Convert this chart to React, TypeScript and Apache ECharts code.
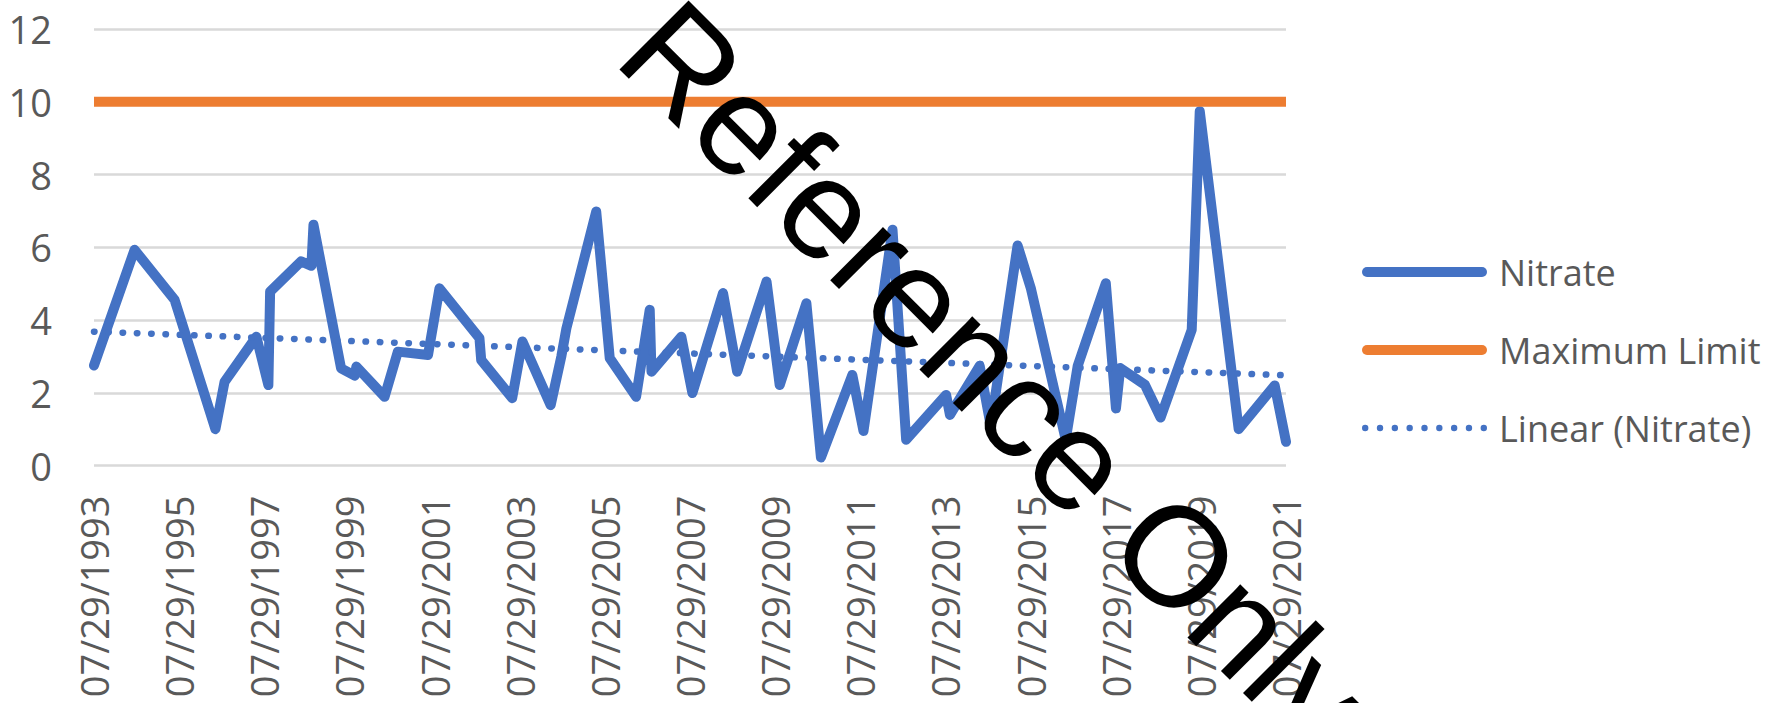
import React, { useEffect, useRef } from "react";
import * as echarts from "echarts";

const nitrateDates = [
  "1993-07-29", "1994-07-12", "1995-06-21", "1996-06-05", "1996-08-22",
  "1997-05-22", "1997-09-02", "1997-09-17", "1998-06-10", "1998-09-06",
  "1998-09-24", "1999-05-19", "1999-09-13", "1999-09-27", "2000-05-26",
  "2000-09-17", "2001-06-03", "2001-09-09", "2002-08-18", "2002-09-02",
  "2003-05-26", "2003-08-22", "2004-04-20", "2004-07-20", "2004-09-02",
  "2005-05-16", "2005-09-09", "2006-04-23", "2006-08-18", "2006-09-02",
  "2007-05-16", "2007-08-19", "2008-05-08", "2008-09-06", "2009-05-16",
  "2009-09-06", "2010-04-23", "2010-08-26", "2011-05-22", "2011-08-26",
  "2012-05-01", "2012-08-26", "2013-08-04", "2013-09-06", "2014-05-19",
  "2014-08-22", "2015-04-09", "2015-07-31", "2016-05-26", "2016-09-06",
  "2017-05-05", "2017-07-31", "2017-09-06", "2018-04-05", "2018-08-18",
  "2019-05-12", "2019-07-20", "2020-06-18", "2021-04-23", "2021-07-29",
];

const nitrateValues = [
  2.75, 5.93, 4.55, 1.0, 2.3,
  3.54, 2.21, 4.78, 5.61, 5.49,
  6.62, 2.67, 2.47, 2.72, 1.89,
  3.13, 3.04, 4.87, 3.5, 2.9,
  1.85, 3.41, 1.66, 2.99, 3.77,
  6.98, 2.95, 1.89, 4.28, 2.58,
  3.54, 1.99, 4.74, 2.58, 5.06,
  2.21, 4.46, 0.22, 2.49, 0.95,
  6.48, 0.71, 1.94, 1.39, 2.74,
  1.08, 6.05, 4.88, 0.71, 2.74,
  5.01, 1.57, 2.68, 2.22, 1.32,
  3.73, 9.74, 1.0, 2.2, 0.65,
];

// Maximum Limit series: first and last date
const maxLimitValues = [10, 10];

// Linear trendline (Nitrate) endpoints
const trendValues = [3.68, 2.48];

const xTickLabels = [
  "07/29/1993", "07/29/1995", "07/29/1997", "07/29/1999", "07/29/2001",
  "07/29/2003", "07/29/2005", "07/29/2007", "07/29/2009", "07/29/2011",
  "07/29/2013", "07/29/2015", "07/29/2017", "07/29/2019", "07/29/2021",
];

const yTicks = [0, 2, 4, 6, 8, 10, 12];

const seriesNames = ["Nitrate", "Maximum Limit", "Linear (Nitrate)"];

const watermarkText = "Reference Only";

function parseUS(s: string): number {
  const [m, d, y] = s.split("/").map(Number);
  return Date.UTC(y, m - 1, d);
}

// legend icon shapes
const solidIcon = "path://M5,0 L120,0 A5,5 0 0,1 120,10 L5,10 A5,5 0 0,1 5,0 Z";
function dottedIcon(): string {
  const r = 3.2;
  const n = 9;
  const w = 125;
  let d = "";
  for (let i = 0; i < n; i++) {
    const cx = r + (i * (w - 2 * r)) / (n - 1);
    d += `M${(cx - r).toFixed(2)},${r} a${r},${r} 0 1,0 ${2 * r},0 a${r},${r} 0 1,0 ${-2 * r},0 Z `;
  }
  return "path://" + d.trim();
}

export default function App() {
  const ref = useRef<HTMLDivElement>(null);

  useEffect(() => {
    if (!ref.current) return;
    const chart = echarts.init(ref.current, null, { renderer: "svg" });
    const tickValues = xTickLabels.map(parseUS);
    const labelByValue: Record<string, string> = {};
    tickValues.forEach((v, i) => (labelByValue[String(v)] = xTickLabels[i]));
    const xMin = tickValues[0];
    const xMax = tickValues[tickValues.length - 1];
    const nitrateData = nitrateDates.map((d, i) => [new Date(d).getTime(), nitrateValues[i]]);
    const limitData = [[xMin, maxLimitValues[0]], [xMax, maxLimitValues[1]]];
    const trendData = [[xMin, trendValues[0]], [xMax, trendValues[1]]];

    const labelFont = "'Open Sans', sans-serif";
    const textColor = "#595959";
    const blue = "#4472C4";
    const orange = "#ED7D31";

    chart.setOption({
      animation: false,
      backgroundColor: "#ffffff",
      grid: { left: 94, right: 489, top: 29, bottom: 237.5, containLabel: false },
      xAxis: {
        type: "value",
        min: xMin,
        max: xMax,
        axisLine: { show: false },
        axisTick: { show: false },
        splitLine: { show: false },
        axisLabel: {
          customValues: tickValues,
          rotate: 90,
          margin: 30,
          color: textColor,
          fontFamily: labelFont,
          fontSize: 38,
          formatter: (v: number) => labelByValue[String(v)] ?? "",
          hideOverlap: false,
        },
      },
      yAxis: {
        type: "value",
        min: yTicks[0],
        max: yTicks[yTicks.length - 1],
        interval: 2,
        axisLine: { show: false },
        axisTick: { show: false },
        splitLine: { show: true, lineStyle: { color: "#D9D9D9", width: 2.5 } },
        axisLabel: {
          color: textColor,
          fontFamily: labelFont,
          fontSize: 38,
          margin: 42,
        },
      },
      legend: {
        orient: "vertical",
        left: 1357,
        top: 247,
        itemWidth: 125,
        itemHeight: 10,
        itemGap: 38,
        symbolKeepAspect: true,
        textStyle: {
          color: textColor,
          fontFamily: labelFont,
          fontSize: 36,
          lineHeight: 40,
          padding: [0, 0, 0, 7],
        },
        data: [
          { name: seriesNames[0], icon: solidIcon, itemStyle: { color: blue } },
          { name: seriesNames[1], icon: solidIcon, itemStyle: { color: orange } },
          { name: seriesNames[2], icon: dottedIcon(), itemStyle: { color: blue } },
        ],
      },
      series: [
        {
          name: seriesNames[0],
          type: "line",
          data: nitrateData,
          symbol: "none",
          showSymbol: false,
          lineStyle: { color: blue, width: 10, join: "round", cap: "round" },
          itemStyle: { color: blue },
          z: 2,
        },
        {
          name: seriesNames[1],
          type: "line",
          data: limitData,
          symbol: "none",
          showSymbol: false,
          lineStyle: { color: orange, width: 10 },
          itemStyle: { color: orange },
          z: 3,
        },
        {
          name: seriesNames[2],
          type: "line",
          data: trendData,
          symbol: "none",
          showSymbol: false,
          lineStyle: { color: blue, width: 6.5, type: [0.5, 13.8], cap: "round" },
          itemStyle: { color: blue },
          z: 4,
        },
      ],
      graphic: [
        {
          type: "text",
          x: 995,
          y: 375,
          rotation: -Math.PI / 4,
          z: 100,
          style: {
            text: watermarkText,
            fontFamily: "'Liberation Sans', Arial, sans-serif",
            fontSize: 142,
            fill: "#000000",
            align: "center",
            verticalAlign: "middle",
          },
        },
      ],
    });
    return () => chart.dispose();
  }, []);

  return (
    <div
      ref={ref}
      style={{ position: "absolute", left: 0, top: 0, width: 1775, height: 703, background: "#fff" }}
    />
  );
}
